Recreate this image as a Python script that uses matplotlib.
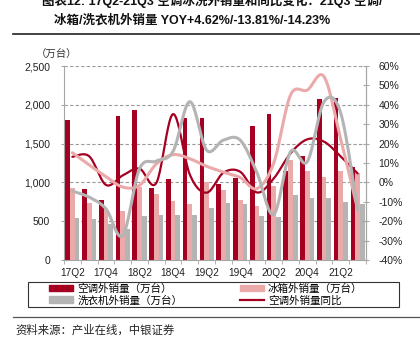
import numpy as np
import matplotlib
matplotlib.use('Agg')
import matplotlib.pyplot as plt
from matplotlib.patches import Patch, Rectangle
from matplotlib.lines import Line2D

# ---------------- data ----------------
quarters = ['17Q2', '17Q3', '17Q4', '18Q1', '18Q2', '18Q3', '18Q4', '19Q1', '19Q2',
            '19Q3', '19Q4', '20Q1', '20Q2', '20Q3', '20Q4', '21Q1', '21Q2', '21Q3']
ac_sales = [1800, 912, 770, 1860, 1930, 922, 1047, 1832, 1836,
            985, 1060, 1729, 1883, 1148, 1342, 2073, 2086, 1195]
fridge_sales = [922, 735, 655, 629, 935, 853, 759, 716, 1004,
                903, 774, 697, 950, 1290, 1148, 1067, 1148, 1118]
washer_sales = [545, 528, 470, 401, 573, 586, 582, 582, 664,
                731, 718, 568, 559, 838, 796, 804, 752, 722]
ac_yoy = [13.2, 13.5, -1.3, 3.6, 7.1, -0.3, 35.2, 4.0, -5.3,
          5.0, 5.5, -5.2, 2.0, 15.0, 22.2, 21.0, 13.3, 4.62]
fridge_yoy = [15.3, 9.0, 3.0, -2.4, -1.5, 9.5, 14.3, 12.2, 8.3,
              5.3, 2.5, -3.2, 10.0, 45.0, 47.6, 54.5, 22.0, -13.81]
washer_yoy = [-4.5, -7.6, -13.6, -27.4, 7.0, 11.0, 16.0, 41.6, 16.6,
              21.8, 21.8, 5.0, -16.5, 15.8, 10.7, 41.6, 35.6, -14.23]
left_ticks = [0, 500, 1000, 1500, 2000, 2500]
right_ticks = [-40, -30, -20, -10, 0, 10, 20, 30, 40, 50, 60]

legend_labels = ['空调外销量（万台）', '洗衣机外销量（万台）', '冰箱外销量（万台）', '空调外销量同比']
title1 = '图表12: 17Q2-21Q3 空调冰洗外销量和同比变化：21Q3 空调/'
title2 = '冰箱/洗衣机外销量 YOY+4.62%/-13.81%/-14.23%'
unit_label = '（万台）'
source = '资料来源：产业在线，中银证券'

# ---------------- style ----------------
RED = '#A50021'
PINK = '#EBA9A9'
GREY = '#B4B4B4'
AXC = '#A6A6A6'

plt.rcParams['font.family'] = ['Liberation Sans', 'Noto Sans CJK SC', 'DejaVu Sans']
CJK = ['Noto Sans CJK SC', 'DejaVu Sans']
MIX = ['Liberation Sans', 'Noto Sans CJK SC', 'DejaVu Sans']

W, H = 420, 356
fig = plt.figure(figsize=(W / 100, H / 100), dpi=100)
L, R, T, B = 64, 366, 66, 260
ax = fig.add_axes([L / W, 1 - B / H, (R - L) / W, (B - T) / H])

x = np.arange(len(quarters))
bw = 0.28
ax.bar(x - bw, ac_sales, bw, color=RED, zorder=2, linewidth=0)
ax.bar(x, fridge_sales, bw, color=PINK, zorder=2, linewidth=0)
ax.bar(x + bw, washer_sales, bw, color=GREY, zorder=2, linewidth=0)
ax.set_xlim(-0.5, len(quarters) - 0.5)
ax.set_ylim(left_ticks[0], left_ticks[-1])
ax.set_yticks(left_ticks)
ax.set_yticklabels([f'{v:,}' for v in left_ticks], fontsize=7.5, color='#222222')
for v in left_ticks[1:]:
    ax.axhline(v, color='#9A9A9A', lw=0.8, ls=(0, (3, 2)), zorder=1)
ax.set_xticks(x[::2])
ax.set_xticklabels(quarters[::2], fontsize=7.3, color='#222222')
ax.set_xticks(np.arange(-0.5, len(quarters), 1), minor=True)
ax.tick_params(axis='x', which='major', length=0, pad=6)
ax.tick_params(axis='x', which='minor', length=3, color=AXC, direction='out')
ax.tick_params(axis='y', length=4, color=AXC, direction='inout', pad=8)
for s in ['left', 'bottom', 'right']:
    ax.spines[s].set_color(AXC)
    ax.spines[s].set_linewidth(0.8)
ax.spines['top'].set_visible(False)

ax2 = ax.twinx()
ax2.set_ylim(right_ticks[0], right_ticks[-1])
ax2.set_yticks(right_ticks)
ax2.set_yticklabels([f'{v}%' for v in right_ticks], fontsize=7.5, color='#222222')
ax2.tick_params(axis='y', length=4, color=AXC, direction='inout', pad=7)
for s in ['left', 'top', 'bottom']:
    ax2.spines[s].set_visible(False)
ax2.spines['right'].set_color(AXC)
ax2.spines['right'].set_linewidth(0.8)

# smoothed line drawing (Excel-like Bezier smoothing through the data points)
SX = (R - L) / len(quarters)
SY = (B - T) / (right_ticks[-1] - right_ticks[0])


def smooth(xs, ys, n=24):
    P = np.column_stack([np.asarray(xs, float) * SX, np.asarray(ys, float) * SY])
    m = len(P)
    out = []
    t = np.linspace(0, 1, n)[:, None]
    for i in range(m - 1):
        p0 = P[i - 1] if i > 0 else P[i]
        p1, p2 = P[i], P[i + 1]
        p3 = P[i + 2] if i + 2 < m else P[i + 1]
        b1 = p1 + (p2 - p0) / 6
        b2 = p2 - (p3 - p1) / 6
        seg = (1 - t) ** 3 * p1 + 3 * (1 - t) ** 2 * t * b1 + 3 * (1 - t) * t ** 2 * b2 + t ** 3 * p2
        out.append(seg if i == 0 else seg[1:])
    out = np.vstack(out)
    return out[:, 0] / SX, out[:, 1] / SY


for ys, c, lw in [(ac_yoy, RED, 1.6), (fridge_yoy, PINK, 2.2), (washer_yoy, GREY, 2.2)]:
    sx_, sy_ = smooth(x, ys)
    ax2.plot(sx_, sy_, color=c, lw=lw, solid_capstyle='round', zorder=3)

# ---------------- texts ----------------
def fx(px):
    return px / W


def fy(py):
    return 1 - py / H


fig.text(fx(212), fy(0.5), title1, ha='center', va='center', fontsize=9,
         fontweight='bold', family=MIX, color='#111111')
fig.text(fx(192), fy(20.5), title2, ha='center', va='center', fontsize=9,
         fontweight='bold', family=MIX, color='#111111')
fig.add_artist(Line2D([fx(13), 1], [fy(34), fy(34)], color='#222222', lw=1.2))
fig.text(fx(57), fy(54), unit_label, ha='center', va='center', fontsize=7.5,
         family=CJK, color='#333333')

# legend
handles = [Patch(color=RED), Patch(color=GREY), Patch(color=PINK),
           Line2D([], [], color=RED, lw=1.6)]
leg = fig.legend(handles, legend_labels, ncol=2, loc='center left',
                 bbox_to_anchor=(fx(49), fy(294.5)), frameon=False,
                 prop={'family': CJK, 'size': 7.6}, handlelength=2.3,
                 handleheight=0.6, labelspacing=0.15, handletextpad=0.4,
                 columnspacing=5.4, borderpad=0, borderaxespad=0)
fig.add_artist(Rectangle((fx(28), fy(307)), fx(371), 25 / H, fill=False,
                         edgecolor='#333333', lw=0.8, transform=fig.transFigure))

fig.add_artist(Line2D([fx(13), 1], [fy(317), fy(317)], color='#555555', lw=0.9))
fig.text(fx(15), fy(330), source, ha='left', va='center', fontsize=8.2,
         family=CJK, style='italic', color='#222222')

fig.savefig('out.png', dpi=100)
